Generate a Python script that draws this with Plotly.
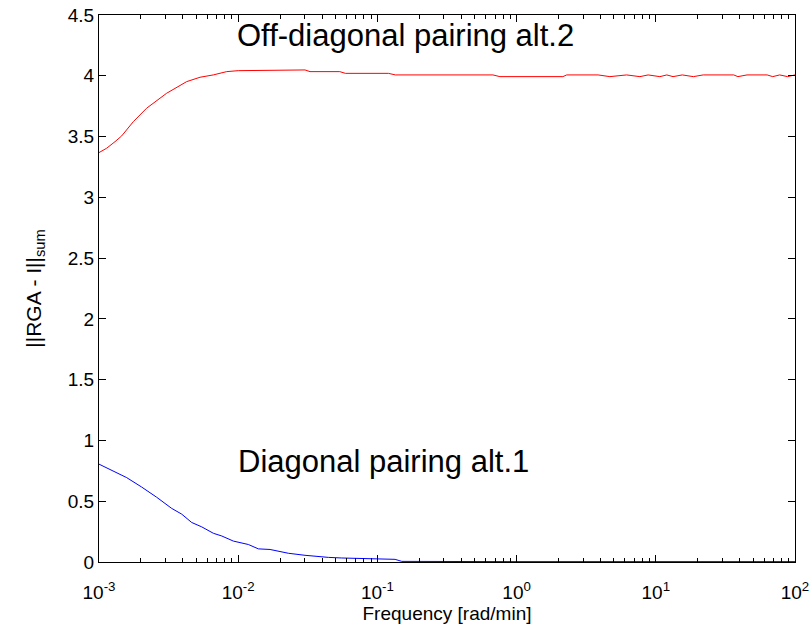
import plotly.graph_objects as go

# Frequency [rad/min] and ||RGA - I||_sum
freq_red = [1.0e-3, 1.135e-3, 1.303e-3, 1.455e-3, 1.766e-3, 2.198e-3, 3.06e-3, 4.266e-3,
            5.32e-3, 6.62e-3, 8.26e-3, 1.0e-2, 3.02e-2, 3.28e-2, 5.37e-2, 5.89e-2,
            0.120, 0.135, 0.676, 0.759, 2.15, 2.29, 3.85, 4.68, 6.17, 7.69, 8.81,
            10.7, 12.0, 13.3, 15.5, 18.6, 21.9, 36.3, 38.9, 45.2, 63.1, 69.2, 77.6,
            88.5, 100.0]
rga_red = [3.368, 3.404, 3.458, 3.505, 3.623, 3.733, 3.856, 3.952,
           3.988, 4.007, 4.034, 4.042, 4.048, 4.034, 4.034, 4.02,
           4.02, 4.007, 4.007, 3.993, 3.993, 4.007, 4.007, 3.993, 4.007, 3.993, 4.007,
           3.993, 4.007, 3.993, 4.007, 3.993, 4.007, 4.007, 3.993, 4.007, 4.007, 3.993,
           4.007, 3.993, 4.007]

freq_blue = [1.0e-3, 1.233e-3, 1.581e-3, 2.023e-3, 2.594e-3, 3.327e-3, 3.926e-3, 4.634e-3,
             5.47e-3, 6.637e-3, 7.62e-3, 9.23e-3, 1.183e-2, 1.396e-2, 1.694e-2, 2.291e-2,
             3.02e-2, 4.446e-2, 5.546e-2, 0.134, 0.1496, 1.0, 10.0, 100.0]
rga_blue = [0.805, 0.755, 0.694, 0.617, 0.533, 0.441, 0.394, 0.325,
            0.289, 0.236, 0.214, 0.172, 0.144, 0.108, 0.103, 0.072,
            0.055, 0.038, 0.033, 0.022, 0.005, 0.003, 0.003, 0.003]

x_tickvals = [1e-3, 1e-2, 1e-1, 1e0, 1e1, 1e2]
x_ticktext = ["10<sup>-3</sup>", "10<sup>-2</sup>", "10<sup>-1</sup>",
              "10<sup>0</sup>", "10<sup>1</sup>", "10<sup>2</sup>"]
x_minor = [k * 10.0 ** d for d in range(-3, 2) for k in range(2, 10)]
y_tickvals = [0, 0.5, 1, 1.5, 2, 2.5, 3, 3.5, 4, 4.5]
y_ticktext = ["0", "0.5", "1", "1.5", "2", "2.5", "3", "3.5", "4", "4.5"]

FONT = "Liberation Sans, Arial, sans-serif"

fig = go.Figure()
fig.add_trace(go.Scatter(x=freq_red, y=rga_red, mode="lines",
                         line=dict(color="#ff0000", width=1), showlegend=False))
fig.add_trace(go.Scatter(x=freq_blue, y=rga_blue, mode="lines",
                         line=dict(color="#0000ff", width=1), showlegend=False))

fig.update_layout(
    width=812, height=628,
    margin=dict(l=99, r=17, t=15, b=66),
    paper_bgcolor="white", plot_bgcolor="white",
    font=dict(family=FONT, color="black", size=17),
    annotations=[
        dict(text="Off-diagonal pairing alt.2", xref="paper", yref="paper",
             x=0.196, y=0.962, xanchor="left", yanchor="middle", showarrow=False,
             font=dict(size=31, family=FONT, color="black")),
        dict(text="Diagonal pairing alt.1", xref="paper", yref="paper",
             x=0.197, y=0.183, xanchor="left", yanchor="middle", showarrow=False,
             font=dict(size=31, family=FONT, color="black")),
    ],
)
fig.update_xaxes(
    type="log", range=[-3, 2], automargin=False,
    tickmode="array", tickvals=x_tickvals, ticktext=x_ticktext,
    ticks="inside", ticklen=7, tickwidth=1, tickcolor="black",
    minor=dict(tickvals=x_minor, ticks="inside", ticklen=4, tickcolor="black", showgrid=False),
    showline=True, linecolor="black", linewidth=1, mirror="allticks",
    showgrid=False, zeroline=False,
    tickfont=dict(size=19), ticklabelstandoff=13,
    title=dict(text="Frequency [rad/min]", font=dict(size=19), standoff=4),
)
fig.update_yaxes(
    range=[0, 4.5], automargin=False,
    tickmode="array", tickvals=y_tickvals, ticktext=y_ticktext,
    ticks="inside", ticklen=7, tickwidth=1, tickcolor="black",
    showline=True, linecolor="black", linewidth=1, mirror="allticks",
    showgrid=False, zeroline=False,
    tickfont=dict(size=19),
    title=dict(text="||RGA - I||<sub>sum</sub>", font=dict(size=21), standoff=20),
)

fig.write_html("out.html")
